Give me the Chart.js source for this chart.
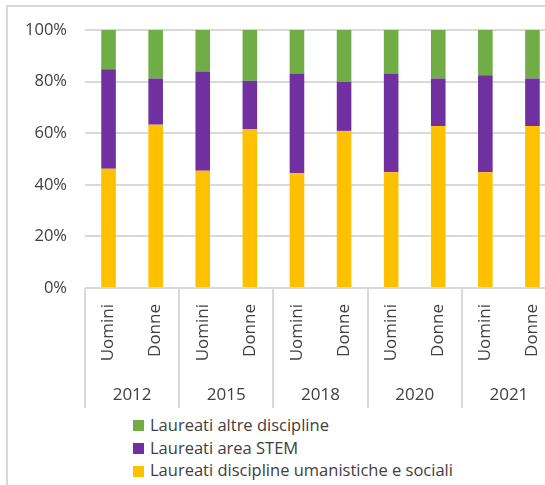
<!DOCTYPE html>
<html>
<head>
<meta charset="utf-8">
<script src="https://cdn.jsdelivr.net/npm/chart.js@4.4.1/dist/chart.umd.min.js"></script>
<style>
html,body{margin:0;padding:0;width:545px;height:485px;overflow:hidden;background:#fff;}
#frame{position:absolute;left:6px;top:5px;width:700px;height:700px;border-left:2px solid #d9d9d9;border-top:2px solid #d9d9d9;box-sizing:border-box;}
#wrap{position:absolute;left:0;top:0;width:556px;height:410px;}
#legend{position:absolute;left:133px;top:414px;font-family:'Open Sans',sans-serif;font-size:16.5px;color:#404040;line-height:22.7px;}
.item{display:flex;align-items:center;white-space:nowrap;height:22.7px;}
.sw{width:11px;height:11px;margin-right:6px;margin-top:1px;flex:none;}
</style>
</head>
<body>
<div id="frame"></div>
<div id="wrap"><canvas id="c" width="556" height="410"></canvas></div>
<div id="legend"></div>
<script>
// ---- data ----
const years = ['2012', '2015', '2018', '2020', '2021'];
const genders = ['Uomini', 'Donne'];
const umanistiche = [46.2, 63.3, 45.4, 61.6, 44.5, 60.9, 44.9, 62.8, 44.9, 62.8];
const stem        = [38.6, 17.9, 38.5, 18.7, 38.5, 19.0, 38.1, 18.4, 37.6, 18.4];
const altre       = [15.2, 18.8, 16.1, 19.7, 17.0, 20.1, 17.0, 18.8, 17.5, 18.8];
const yTicks = [0, 20, 40, 60, 80, 100];

const categories = [];
years.forEach(() => genders.forEach(g => categories.push(g)));

const FONT = "'Open Sans', sans-serif";
const TEXT = '#404040';
const GRID = '#d9d9d9';

const groupLines = {
  id: 'groupLines',
  afterDraw(chart) {
    const x2 = chart.scales.x2, ctx = chart.ctx;
    const top = chart.chartArea.bottom, bottom = x2.bottom;
    ctx.save();
    ctx.strokeStyle = GRID;
    ctx.lineWidth = 2;
    for (let i = 0; i <= years.length; i++) {
      const px = Math.round(x2.getPixelForValue(i - 0.5));
      ctx.beginPath();
      ctx.moveTo(px, top);
      ctx.lineTo(px, bottom);
      ctx.stroke();
    }
    ctx.restore();
  }
};

const chart = new Chart(document.getElementById('c'), {
  type: 'bar',
  data: {
    labels: categories,
    datasets: [
      { label: 'Laureati discipline umanistiche e sociali', data: umanistiche, backgroundColor: '#FFC000' },
      { label: 'Laureati area STEM', data: stem, backgroundColor: '#7030A0' },
      { label: 'Laureati altre discipline', data: altre, backgroundColor: '#70AD47' }
    ]
  },
  options: {
    responsive: false,
    animation: false,
    devicePixelRatio: 1,
    layout: { padding: { left: 0, right: 0, top: 30, bottom: 2 } },
    datasets: { bar: { categoryPercentage: 1.0, barPercentage: 0.31 } },
    plugins: {
      legend: { display: false },
      tooltip: { enabled: false }
    },
    scales: {
      x: {
        stacked: true,
        position: 'bottom',
        grid: { display: false, drawTicks: false },
        border: { display: false },
        ticks: {
          autoSkip: false, minRotation: 90, maxRotation: 90, padding: 16,
          color: TEXT, font: { family: FONT, size: 17 }
        },
        afterFit(s) { s.height = 76; s.paddingLeft = 0; s.paddingRight = 0; }
      },
      x2: {
        type: 'category',
        labels: years,
        position: 'bottom',
        offset: true,
        grid: { display: false, drawTicks: false },
        border: { display: false },
        ticks: { padding: 21, color: TEXT, font: { family: FONT, size: 17 } },
        afterFit(s) { s.height = 44; s.paddingLeft = 0; s.paddingRight = 0; }
      },
      y: {
        stacked: true,
        min: 0, max: 100,
        afterBuildTicks(s) { s.ticks = yTicks.map(v => ({ value: v })); },
        grid: { color: GRID, lineWidth: 2, drawTicks: false },
        border: { display: false },
        ticks: {
          padding: 18, color: TEXT, font: { family: FONT, size: 16.5 },
          callback: v => v + '%'
        },
        afterFit(s) { s.width = 85; }
      }
    }
  },
  plugins: [groupLines]
});

// HTML legend built from the chart's own legend items (reversed order like the reference)
const items = chart.options.plugins.legend.labels.generateLabels(chart).slice().reverse();
const leg = document.getElementById('legend');
items.forEach(it => {
  const row = document.createElement('div');
  row.className = 'item';
  const sw = document.createElement('span');
  sw.className = 'sw';
  sw.style.background = it.fillStyle;
  const tx = document.createElement('span');
  tx.textContent = it.text;
  row.appendChild(sw);
  row.appendChild(tx);
  leg.appendChild(row);
});
</script>
</body>
</html>
